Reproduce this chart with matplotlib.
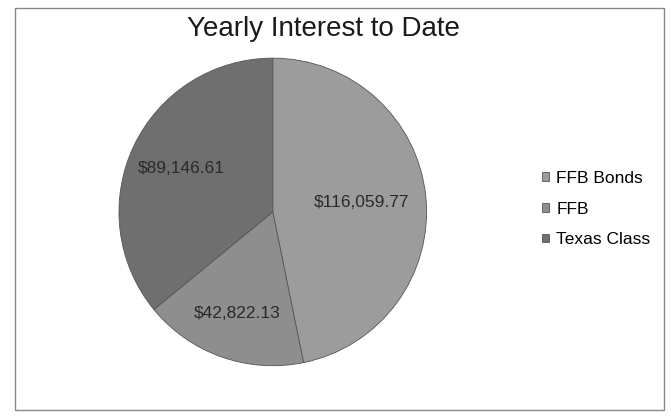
import numpy as np
import matplotlib.pyplot as plt
from matplotlib.patches import Rectangle

plt.rcParams['font.family'] = ['Liberation Sans', 'DejaVu Sans']

names = ['FFB Bonds', 'FFB', 'Texas Class']
values = [116059.77, 42822.13, 89146.61]
labels = ['$116,059.77', '$42,822.13', '$89,146.61']
colors = ['#9c9c9c', '#8e8e8e', '#6f6f6f']
label_r = [0.58, 0.7, 0.66]

fig = plt.figure(figsize=(6.71, 4.18), dpi=100)
fig.patch.set_facecolor('white')

# chart frame
fig.patches.append(Rectangle((0.022, 0.02), 0.968, 0.962, transform=fig.transFigure,
                             fill=False, edgecolor='#888888', lw=1.0))

ax = fig.add_axes([0.175, 0.121, 0.463, 0.744])
wedges, _ = ax.pie(values, colors=colors, startangle=90, counterclock=False,
                   wedgeprops=dict(edgecolor='#555555', linewidth=0.6))
ax.set_xlim(-1.01, 1.01)
ax.set_ylim(-1.01, 1.01)
ax.set_aspect('equal')

for w, lab, r in zip(wedges, labels, label_r):
    mid = np.deg2rad((w.theta1 + w.theta2) / 2)
    ax.text(r * np.cos(mid), r * np.sin(mid), lab, ha='center', va='center',
            fontsize=12.5, color='#2a2a2a')

fig.text(0.482, 0.93, 'Yearly Interest to Date', ha='center', va='center',
         fontsize=20, color='#1a1a1a')

leg = fig.legend(wedges, names, loc='center left', bbox_to_anchor=(0.785, 0.5),
                 frameon=False, fontsize=12.5, handlelength=0.4, handleheight=0.4,
                 handletextpad=0.4, labelspacing=0.9)

fig.savefig('out.png', dpi=100)
